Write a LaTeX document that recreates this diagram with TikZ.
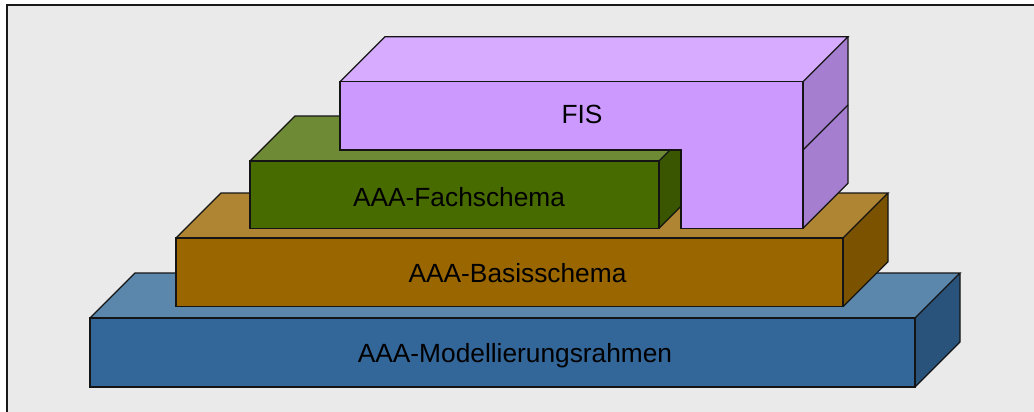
\documentclass[tikz,border=0pt]{standalone}
\usepackage{fontspec}
\setmainfont{Liberation Sans}
\definecolor{panelbg}{HTML}{EAEAEA}
\definecolor{rahmenFront}{HTML}{336699}
\definecolor{rahmenTop}{HTML}{5B87AD}
\definecolor{rahmenSide}{HTML}{29537A}
\definecolor{basisFront}{HTML}{996600}
\definecolor{basisTop}{HTML}{AF8533}
\definecolor{basisSide}{HTML}{7A5200}
\definecolor{fachFront}{HTML}{486B00}
\definecolor{fachTop}{HTML}{6E8A34}
\definecolor{fachSide}{HTML}{3A5600}
\definecolor{fisFront}{HTML}{CC99FF}
\definecolor{fisTop}{HTML}{D7ABFF}
\definecolor{fisSide}{HTML}{A67ECF}
% extruded block: #1,#2 = front top-left, #3,#4 = front bottom-right, #5..#7 = colours
\newcommand{\layerblock}[7]{%
  \fill[#6] (#1,#2) -- ++(45,-45) -- (#3+45,#2-45) -- (#3,#2) -- cycle;
  \fill[#7] (#3,#2) -- ++(45,-45) -- (#3+45,#4-45) -- (#3,#4) -- cycle;
  \fill[#5] (#1,#2) rectangle (#3,#4);
  \draw[edge] (#1,#2) -- ++(45,-45) -- (#3+45,#2-45) -- (#3,#2);
  \draw[edge] (#3+45,#2-45) -- (#3+45,#4-45) -- (#3,#4);
  \draw[edge] (#1,#2) rectangle (#3,#4);
}
\tikzset{
  edge/.style={draw=black!92, line width=1.3pt, line join=miter},
  caption/.style={anchor=base, inner sep=0pt, font=\fontsize{26.3}{31}\selectfont, text=black}
}
\begin{document}
\begin{tikzpicture}[x=1pt, y=-1pt]
  \useasboundingbox (0,0) rectangle (1034,412);
  \fill[white] (0,0) rectangle (1034,412);
  % framed panel running past the right and bottom edges
  \fill[panelbg] (7,5) rectangle (1050,430);
  \draw[draw=black!90, line width=1.6pt] (7,430) -- (7,5) -- (1050,5);

  % base layer
  \layerblock{90}{318}{915}{387}{rahmenFront}{rahmenTop}{rahmenSide}
  \node[caption] (rahmen) at (515,362.3) {AAA-Modellierungsrahmen};

  % second layer
  \layerblock{176}{238}{843}{306.7}{basisFront}{basisTop}{basisSide}
  \node[caption] (basis) at (517.5,282.7) {AAA-Basisschema};

  % third layer
  \layerblock{250}{161}{659}{228.3}{fachFront}{fachTop}{fachSide}
  \node[caption] (fach) at (459,206) {AAA-Fachschema};

  % L-shaped FIS block
  \fill[fisTop] (340,81.7) -- (385,36.7) -- (848,36.7) -- (803,81.7) -- cycle;
  \fill[fisSide] (803,81.7) -- (848,36.7) -- (848,183.3) -- (803,228.3) -- cycle;
  \fill[fisFront] (340,81.7) -- (803,81.7) -- (803,228.3) -- (681,228.3) -- (681,150) -- (340,150) -- cycle;
  \draw[edge] (340,81.7) -- (385,36.7) -- (848,36.7) -- (803,81.7);
  \draw[edge] (848,36.7) -- (848,183.3) -- (803,228.3);
  \draw[edge] (803,150) -- (848,105);
  \draw[edge] (340,81.7) -- (803,81.7) -- (803,228.3) -- (681,228.3) -- (681,150) -- (340,150) -- cycle;
  \node[caption] (fis) at (582,123.3) {FIS};
\end{tikzpicture}
\end{document}
